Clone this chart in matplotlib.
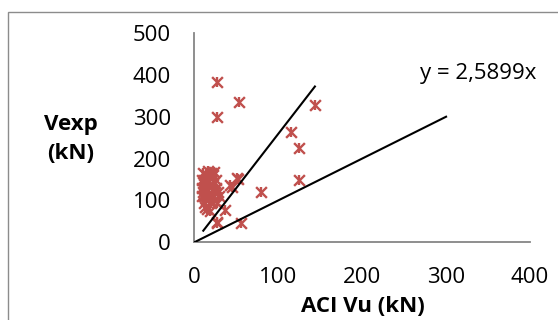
import matplotlib
matplotlib.use("Agg")
import matplotlib.pyplot as plt
from matplotlib.patches import Rectangle

plt.rcParams['font.family'] = ['Open Sans', 'DejaVu Sans']

# ACI Vu (kN) vs Vexp (kN)
aci_vu = [10, 12, 14, 16, 18, 20, 22, 24, 26, 11, 13, 15, 17, 19, 21, 23, 25, 10,
          12, 14, 16, 18, 20, 22, 24, 27, 11, 13, 15, 19, 28, 30, 26, 26.7, 27.4,
          36.5, 42.5, 44.5, 50.5, 52.4, 55.2, 79.4, 115, 124.6, 124.6, 143.7,
          26.7, 26.7, 53.2, 9, 9, 9]
v_exp = [165, 150, 160, 170, 155, 165, 160, 168, 150, 140, 130, 145, 135, 140, 125,
         145, 120, 120, 110, 100, 115, 105, 95, 110, 100, 95, 95, 85, 80, 75, 120,
         110, 130, 49, 45, 77, 137, 133, 153, 151, 45, 121, 263, 226, 149, 328,
         384, 299, 334, 130, 110, 150]

slope = 2.5899
trend_x = [10.7, max(aci_vu)]
ref_x = [0, 300]

W, H = 558, 320
fig = plt.figure(figsize=(W / 100, H / 100), dpi=100)
ax = fig.add_axes([194.3 / W, 1 - 242.3 / H, (530 - 194.3) / W, (242.3 - 33) / H])

red = '#C0504D'
ax.scatter(aci_vu, v_exp, marker='x', s=60, color=red, linewidths=1.7, zorder=3)
ax.scatter(aci_vu, v_exp, marker='|', s=60, color=red, linewidths=1.7, zorder=3)
ax.plot(trend_x, [slope * v for v in trend_x], color='black', lw=1.5, zorder=4)
ax.plot(ref_x, ref_x, color='black', lw=1.5, zorder=4)

ax.set_xlim(0, 400)
ax.set_ylim(0, 500)
ax.set_xticks([0, 100, 200, 300, 400])
ax.set_yticks([0, 100, 200, 300, 400, 500])
ax.tick_params(length=0, labelsize=16, colors='black')
ax.tick_params(axis='y', pad=17)
ax.tick_params(axis='x', pad=18)
for s in ['top', 'right']:
    ax.spines[s].set_visible(False)
for s in ['left', 'bottom']:
    ax.spines[s].set_color('#868686')
    ax.spines[s].set_linewidth(1.3)

fig.text(71 / W, 1 - 139 / H, 'Vexp\n(kN)', ha='center', va='center',
         fontsize=16, fontweight='bold', linespacing=1.5)
fig.text(362.5 / W, 1 - 307 / H, 'ACI Vu (kN)', ha='center', va='center',
         fontsize=16, fontweight='bold')
fig.text(420 / W, 1 - 73 / H, 'y = 2,5899x', ha='left', va='center', fontsize=16)

fig.patches.append(Rectangle((8 / W, -0.1), 1.2, 1 - 12 / H + 0.1,
                             transform=fig.transFigure, fill=False,
                             edgecolor='#8C8C8C', lw=1.0, clip_on=False))

fig.savefig('out.png', dpi=100)
